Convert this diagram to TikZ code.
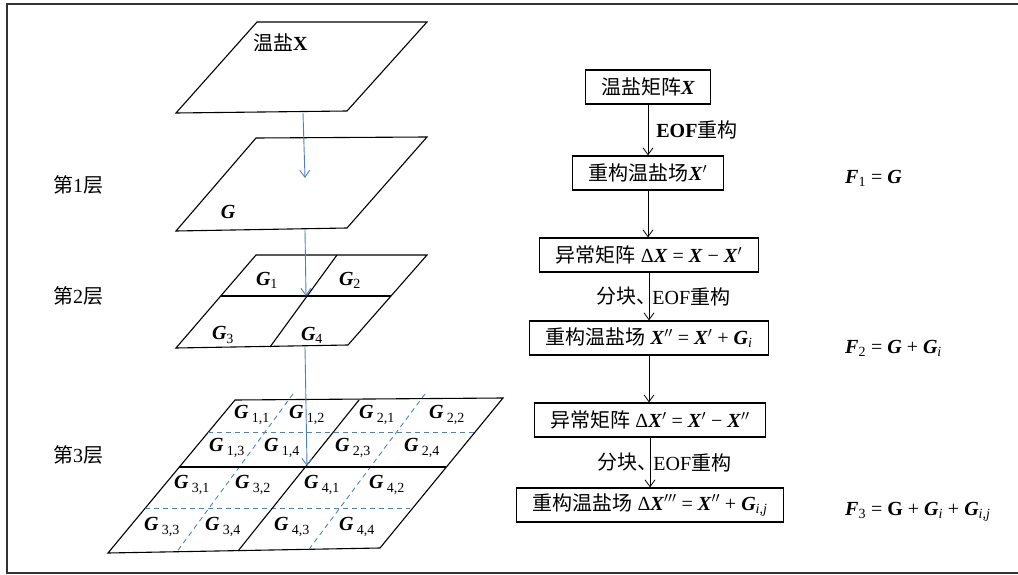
\documentclass[tikz,border=0pt]{standalone}
\usepackage{fontspec}
\setmainfont{Liberation Serif}
\newfontfamily\cjk{Noto Sans CJK SC}
\usetikzlibrary{positioning,arrows.meta}

\definecolor{blueline}{RGB}{79,129,189}
\newcommand{\bi}[1]{\textbf{\textit{#1}}}
\newcommand{\zh}[1]{{\cjk #1}}
\newcommand{\pr}{\ensuremath{^{\prime}}}
\newcommand{\ppr}{\ensuremath{^{\prime\prime}}}
\newcommand{\pppr}{\ensuremath{^{\prime\prime\prime}}}

\tikzset{
    plane/.style={draw=black, line width=1.1pt},
    subline/.style={draw=blueline, line width=0.9pt, dash pattern=on 5pt off 4pt},
    down/.style={draw=blueline, line width=0.9pt, -{Straight Barb[length=7pt,width=10pt]}},
    flow/.style={draw=black, line width=0.8pt, -{Straight Barb[length=7pt,width=10pt]}},
    stepbox/.style={draw=black, line width=1.1pt, minimum height=34pt, inner xsep=16pt, inner ysep=2pt, font=\fontsize{20}{24}\selectfont},
    lbl/.style={font=\fontsize{20}{24}\selectfont, inner sep=0pt},
}

\begin{document}
\begin{tikzpicture}[x=1pt, y=-1pt]
    \useasboundingbox (0,0) rectangle (1018,575);
    \draw[line width=1.5pt, black!80] (1020,4) -- (7,4) -- (7,573) -- (1020,573);

    % planes
    \draw[plane] (176,113) -- (347,111) -- (427,22) -- (257,22) -- cycle;
    \draw[plane] (176,231) -- (347,228) -- (427,137) -- (256,138) -- cycle;
    \draw[plane] (176,348) -- (348,345) -- (427,255) -- (256,255) -- cycle;
    \draw[plane] (221,296) -- (391,296);
    \draw[plane] (337,255) -- (270,347);
    \draw[plane] (108,553) -- (380,548) -- (503,398) -- (235,400) -- cycle;
    \draw[subline] (208,432) -- (474,432);
    \draw[subline] (145,508) -- (410,508);
    \draw[subline] (293,394) -- (176,553);
    \draw[subline] (425,394) -- (307,552);
    \draw[plane] (179,467) -- (446,467);
    \draw[plane] (359,400) -- (238,551);

    % layer labels
    \node[lbl, anchor=west] (lay1) at (53,185) {\zh{第}1\zh{层}};
    \node[lbl, anchor=west] (lay2) at (53,296) {\zh{第}2\zh{层}};
    \node[lbl, anchor=west] (lay3) at (53,455) {\zh{第}3\zh{层}};

    \node[lbl, anchor=west] (tsx) at (253,43) {\zh{温盐}\textbf{X}};
    \node[lbl] (g) at (228,212) {\bi{G}};

    \node[lbl] (g1) at (267,280) {\bi{G}\textsubscript{1}};
    \node[lbl] (g2) at (350,280) {\bi{G}\textsubscript{2}};
    \node[lbl] (g3) at (223,335) {\bi{G}\textsubscript{3}};
    \node[lbl] (g4) at (312,335) {\bi{G}\textsubscript{4}};

    \node[lbl] (g11) at (252,415) {\bi{G}\,\textsubscript{1,1}};
    \node[lbl] (g12) at (307,415) {\bi{G}\,\textsubscript{1,2}};
    \node[lbl] (g21) at (377,415) {\bi{G}\,\textsubscript{2,1}};
    \node[lbl] (g22) at (447,415) {\bi{G}\,\textsubscript{2,2}};
    \node[lbl] (g13) at (227,448) {\bi{G}\,\textsubscript{1,3}};
    \node[lbl] (g14) at (282,448) {\bi{G}\,\textsubscript{1,4}};
    \node[lbl] (g23) at (353,448) {\bi{G}\,\textsubscript{2,3}};
    \node[lbl] (g24) at (422,448) {\bi{G}\,\textsubscript{2,4}};
    \node[lbl] (g31) at (192,485) {\bi{G}\,\textsubscript{3,1}};
    \node[lbl] (g32) at (253,485) {\bi{G}\,\textsubscript{3,2}};
    \node[lbl] (g41) at (322,485) {\bi{G}\,\textsubscript{4,1}};
    \node[lbl] (g42) at (387,485) {\bi{G}\,\textsubscript{4,2}};
    \node[lbl] (g33) at (162,527) {\bi{G}\,\textsubscript{3,3}};
    \node[lbl] (g34) at (223,527) {\bi{G}\,\textsubscript{3,4}};
    \node[lbl] (g43) at (292,527) {\bi{G}\,\textsubscript{4,3}};
    \node[lbl] (g44) at (357,527) {\bi{G}\,\textsubscript{4,4}};

    % blue arrows between layers
    \coordinate (p0s) at (303,113);
    \coordinate (p1c) at (305,178);
    \coordinate (p1s) at (305,230);
    \coordinate (p2c) at (306,296);
    \coordinate (p2s) at (305,347);
    \coordinate (p3c) at (307,466);
    \draw[down] (p0s) -- (p1c);
    \draw[down] (p1s) -- (p2c);
    \draw[down] (p2s) -- (p3c);

    % flow chart
    \node[stepbox] (mx) at (648,87) {\zh{温盐矩阵}\bi{X}};
    \node[stepbox] (rx1) at (648,173) {\zh{重构温盐场}\bi{X}\pr};
    \node[stepbox] (ax1) at (649,255) {\zh{异常矩阵} Δ\bi{X} = \bi{X} − \bi{X}\pr};
    \node[stepbox] (rx2) at (649,338) {\zh{重构温盐场} \bi{X}\ppr{} = \bi{X}\pr{} + \bi{G}\textsubscript{\textit{i}}};
    \node[stepbox] (ax2) at (650,420) {\zh{异常矩阵} Δ\bi{X}\pr{} = \bi{X}\pr{} − \bi{X}\ppr};
    \node[stepbox] (rx3) at (650,505) {\zh{重构温盐场} Δ\bi{X}\pppr{} = \bi{X}\ppr{} + \bi{G}\textsubscript{\textit{i},\textit{j}}};

    \draw[flow] (mx) -- (mx |- rx1.north)
        node[midway, right, lbl, xshift=8pt] {\textbf{EOF}\zh{重构}};
    \draw[flow] (rx1) -- (rx1 |- ax1.north);
    \draw[flow] (ax1) -- (ax1 |- rx2.north)
        node[midway, left, lbl, xshift=8pt] {\zh{分块、}}
        node[midway, right, lbl, xshift=3pt] {EOF\zh{重构}};
    \draw[flow] (rx2) -- (rx2 |- ax2.north);
    \draw[flow] (ax2) -- (ax2 |- rx3.north)
        node[midway, left, lbl, xshift=8pt] {\zh{分块、}}
        node[midway, right, lbl, xshift=3pt] {EOF\zh{重构}};

    % formulas
    \node[lbl, anchor=west] (f1) at (845,178) {\bi{F}\textsubscript{1} = \bi{G}};
    \node[lbl, anchor=west] (f2) at (845,348) {\bi{F}\textsubscript{2} = \bi{G} + \bi{G}\textsubscript{\textit{i}}};
    \node[lbl, anchor=west] (f3) at (845,512) {\bi{F}\textsubscript{3} = \textbf{G} + \bi{G}\textsubscript{\textit{i}} + \bi{G}\textsubscript{\textit{i},\textit{j}}};
\end{tikzpicture}
\end{document}
